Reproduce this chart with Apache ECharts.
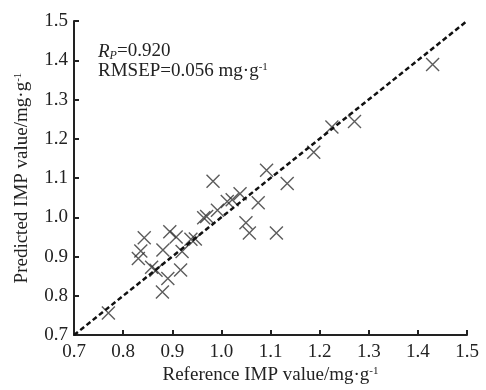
<!DOCTYPE html>
<html><head><meta charset="utf-8">
<script src="https://cdn.jsdelivr.net/npm/echarts@6/dist/echarts.min.js"></script>
<style>html,body{margin:0;padding:0;background:#fff}#c{width:486px;height:390px}</style>
</head><body><div id="c"></div>
<script>
const referenceValues = [0.770,0.831,0.836,0.843,0.858,0.867,0.880,0.881,0.891,0.895,0.908,0.917,0.920,0.938,0.947,0.964,0.970,0.983,0.992,1.012,1.022,1.038,1.050,1.057,1.075,1.092,1.112,1.134,1.188,1.225,1.271,1.430];
const predictedValues = [0.756,0.895,0.914,0.948,0.873,0.865,0.810,0.917,0.844,0.963,0.950,0.866,0.913,0.944,0.945,0.999,1.002,1.092,1.018,1.040,1.045,1.060,0.986,0.960,1.037,1.120,0.960,1.086,1.166,1.230,1.244,1.389];
const fitLine = [[0.7,0.7],[1.5,1.5]];
const tickLabels = ['0.7','0.8','0.9','1.0','1.1','1.2','1.3','1.4','1.5'];
const rpText = '0.920';
const rmsepText = '0.056';

const font = 'Liberation Serif';
const fs = 19;
const chart = echarts.init(document.getElementById('c'), null, {renderer:'canvas'});
const axisCommon = {
  type:'value', min:0.7, max:1.5, interval:0.1,
  splitLine:{show:false},
  axisLine:{show:true, onZero:false, lineStyle:{color:'#222', width:2}},
  axisTick:{show:true, inside:true, length:5, lineStyle:{color:'#222', width:2}},
  axisLabel:{color:'#222', fontFamily:font, fontSize:fs, formatter:v=>tickLabels[Math.round((v-0.7)*10)]},
  nameLocation:'middle',
  nameTextStyle:{color:'#222', fontFamily:font, fontSize:fs, rich:{sup:{fontFamily:font, fontSize:11, verticalAlign:'top', color:'#222', padding:[0,0,8,0]}}}
};
const xMark = 'path://M0,0L10,10M10,0L0,10';
chart.setOption({
  animation:false,
  grid:{left:74, right:19, top:21, bottom:52},
  xAxis:Object.assign({}, axisCommon, {name:'Reference IMP value/mg·g{sup|-1}', nameGap:26,
     axisLabel:Object.assign({}, axisCommon.axisLabel, {margin:7})}),
  yAxis:Object.assign({}, axisCommon, {name:'Predicted IMP value/mg·g{sup|-1}', nameGap:42,
     axisLabel:Object.assign({}, axisCommon.axisLabel, {margin:6})}),
  graphic:[{
    type:'text', left:98, top:42,
    style:{
      text:'{i|R}{s|P}{n|=' + rpText + '}\n{n|RMSEP=' + rmsepText + ' mg·g}{sup|-1}',
      rich:{
        i:{fontFamily:font, fontStyle:'italic', fontSize:fs, fill:'#222', lineHeight:20},
        s:{fontFamily:font, fontStyle:'italic', fontSize:12, fill:'#222', verticalAlign:'bottom', padding:[7,0,0,0], lineHeight:20},
        n:{fontFamily:font, fontSize:fs, fill:'#222', lineHeight:20},
        sup:{fontFamily:font, fontSize:11, fill:'#222', verticalAlign:'top', padding:[0,0,8,0], lineHeight:20}
      }
    }
  }],
  series:[
    {type:'line', data:fitLine, symbol:'none', silent:true,
     lineStyle:{color:'#111', width:2.5, type:[5,3]}},
    {type:'scatter', data:referenceValues.map((x,i)=>[x,predictedValues[i]]),
     symbol:xMark, symbolSize:13,
     itemStyle:{color:'none', borderColor:'#333', borderWidth:1.4}}
  ]
});
</script></body></html>
